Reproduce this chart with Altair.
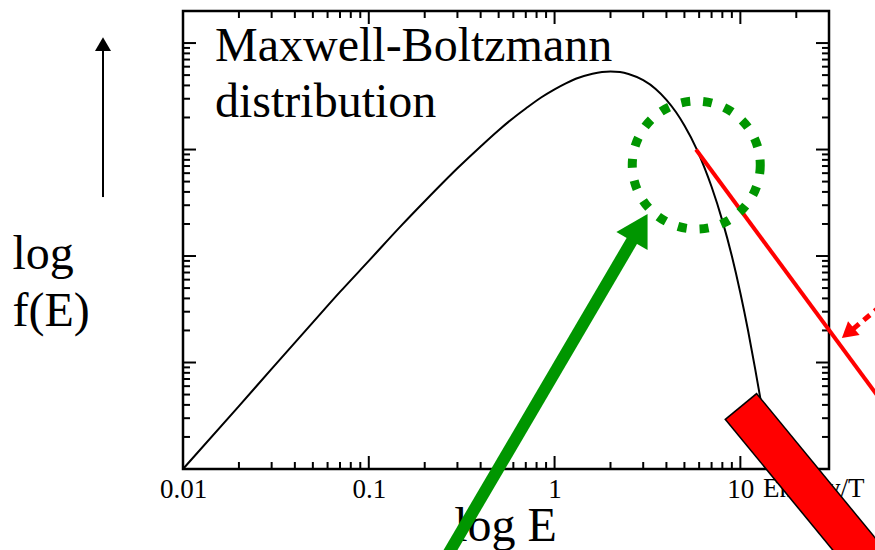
import altair as alt
import pandas as pd

# ---- Maxwell-Boltzmann curve ----
energy = [0.01, 0.02, 0.03, 0.05, 0.07, 0.1, 0.15, 0.2, 0.3, 0.4, 0.5, 0.6, 0.7,
          0.85, 1.0, 1.15, 1.3, 1.6, 1.8, 2.0, 2.25, 2.5, 3.0, 3.5, 4.0, 4.5, 5.0,
          5.8, 6.4, 7.0, 8.0, 9.0, 10.0, 11.0, 12.0, 12.9]
f_of_e = [1.0e-4, 3.9e-4, 8.7e-4, 2.38e-3, 4.6e-3, 9.0e-3, 1.94e-2, 3.27e-2, 6.67e-2,
          0.107, 0.152, 0.198, 0.243, 0.31, 0.368, 0.419, 0.462, 0.516, 0.535, 0.541,
          0.534, 0.513, 0.448, 0.371, 0.293, 0.225, 0.168, 0.102, 0.068, 0.0447,
          0.0215, 0.010, 4.5e-3, 2.0e-3, 8.8e-4, 4.3e-4]

# ---- tick values ----
x_labels = [0.01, 0.1, 1, 10]
x_major = [0.01, 0.1, 1, 10]
x_minor = [0.02, 0.03, 0.04, 0.05, 0.06, 0.07, 0.08, 0.09,
           0.2, 0.3, 0.4, 0.5, 0.6, 0.7, 0.8, 0.9,
           2, 3, 4, 5, 6, 7, 8, 9, 20]
y_major = [1e-4, 1e-3, 1e-2, 1e-1, 1]
y_minor = [2e-4, 3e-4, 4e-4, 5e-4, 6e-4, 7e-4, 8e-4, 9e-4,
           2e-3, 3e-3, 4e-3, 5e-3, 6e-3, 7e-3, 8e-3, 9e-3,
           2e-2, 3e-2, 4e-2, 5e-2, 6e-2, 7e-2, 8e-2, 9e-2,
           0.2, 0.3, 0.4, 0.5, 0.6, 0.7, 0.8, 0.9]

# ---- annotation geometry in data units (E, f) ----
red_line_e = [5.77, 76.9]
red_line_f = [0.1, 2.18e-4]
red_dash_e = [40.4, 76.9]
red_dash_f = [2.06e-3, 5.28e-3]
red_head_e = [37.9]
red_head_f = [1.89e-3]
circle_e = [5.79]
circle_f = [0.0715]
green_shaft_e = [0.2135, 2.642]
green_shaft_f = [8.14e-6, 0.01444]
green_head_e = [2.874]
green_head_f = [0.01852]
bar_border_e = [10.01, 72.55]
bar_border_f = [3.92e-4, 5.85e-6]
bar_fill_e = [10.14, 72.55]
bar_fill_f = [3.82e-4, 5.85e-6]
up_shaft_e = [3.71e-3, 3.71e-3]
up_shaft_f = [0.0358, 0.859]
up_head_e = [3.71e-3]
up_head_f = [0.9786]

W, H = 646, 458
SERIF = "Liberation Serif"
GREEN = "#009600"

xscale = alt.Scale(type="log", domain=[0.01, 30], nice=False)
yscale = alt.Scale(type="log", domain=[1e-4, 2], nice=False)

xaxis = alt.Axis(
    values=x_labels, format="~g", title="log E", ticks=False, domain=False,
    grid=False, labelFont=SERIF, labelFontSize=27, labelColor="black",
    labelPadding=28, labelBaseline="alphabetic", labelFlush=False,
    labelOverlap=False, titleFont=SERIF, titleFontSize=48,
    titleFontWeight="normal", titleColor="black", titleX=322, titleY=71,
    titleBaseline="alphabetic", titleAlign="center")
yaxis = alt.Axis(
    title=["log", "f(E)"], labels=False, ticks=False, domain=False,
    grid=False, titleAngle=0, titleX=-171, titleY=257, titleAlign="left",
    titleBaseline="alphabetic", titleFont=SERIF, titleFontSize=48,
    titleFontWeight="normal", titleColor="black", titleLineHeight=57)


def df(e, f):
    return pd.DataFrame({"E": e, "f": f})


def X():
    return alt.X("E:Q", scale=xscale, axis=xaxis)


def Y():
    return alt.Y("f:Q", scale=yscale, axis=yaxis)


curve = alt.Chart(df(energy, f_of_e)).mark_line(
    color="black", strokeWidth=2, interpolate="monotone", clip=False
).encode(x=X(), y=Y())


def xticks(vals, length, top):
    y0 = 0 if top else H
    y1 = length if top else H - length
    return alt.Chart(pd.DataFrame({"E": vals})).mark_rule(
        color="black", strokeWidth=2, clip=False
    ).encode(x=X(), y=alt.value(y0), y2=alt.value(y1))


def yticks(vals, length, right):
    x0 = W if right else 0
    x1 = W - length if right else length
    return alt.Chart(pd.DataFrame({"f": vals})).mark_rule(
        color="black", strokeWidth=2, clip=False
    ).encode(y=Y(), x=alt.value(x0), x2=alt.value(x1))


tick_layers = [
    xticks(x_major, 13, False), xticks(x_minor, 7, False),
    xticks(x_major, 13, True), xticks(x_minor, 7, True),
    yticks(y_major, 13, False), yticks(y_minor, 7, False),
    yticks(y_major, 13, True), yticks(y_minor, 7, True),
]


def text(s, x, y, size):
    return alt.Chart(pd.DataFrame({"t": [s]})).mark_text(
        font=SERIF, fontSize=size, color="black", align="left",
        baseline="alphabetic", clip=False
    ).encode(text="t:N", x=alt.value(x), y=alt.value(y))


texts = [
    text("Maxwell-Boltzmann", 32, 50, 48),
    text("distribution", 32, 106, 48),
    text("Energy/T", 580, 486, 27),
]


def line(e, f, color, width, dash=None):
    kw = dict(color=color, strokeWidth=width, clip=False, strokeCap="butt")
    if dash:
        kw["strokeDash"] = dash
    return alt.Chart(df(e, f)).mark_line(**kw).encode(x=X(), y=Y())


def head(e, f, color, size, angle):
    return alt.Chart(df(e, f)).mark_point(
        shape="triangle-up", filled=True, fill=color, strokeWidth=0,
        size=size, angle=angle, opacity=1, clip=False
    ).encode(x=X(), y=Y())


red_line = line(red_line_e, red_line_f, "red", 4)
red_dash = line(red_dash_e, red_dash_f, "red", 5, [8, 6])
red_head = head(red_head_e, red_head_f, "red", 324, 230)

circle = alt.Chart(df(circle_e, circle_f)).mark_point(
    shape="circle", filled=False, stroke=GREEN, strokeWidth=9,
    strokeDash=[9, 13], size=16384, opacity=1, clip=False
).encode(x=X(), y=Y())

green_shaft = line(green_shaft_e, green_shaft_f, GREEN, 12)
green_head = head(green_head_e, green_head_f, GREEN, 1296, 30)

bar_border = line(bar_border_e, bar_border_f, "black", 42)
bar_fill = line(bar_fill_e, bar_fill_f, "red", 39)

up_shaft = line(up_shaft_e, up_shaft_f, "black", 2)
up_head = head(up_head_e, up_head_f, "black", 256, 0)

chart = alt.layer(
    curve, *tick_layers, *texts, red_line, red_dash, red_head, circle,
    green_shaft, green_head, bar_border, bar_fill, up_shaft, up_head
).properties(
    width=W, height=H,
    autosize=alt.AutoSizeParams(type="none"),
    padding={"left": 183, "top": 11, "right": 46, "bottom": 81},
    background="white",
).configure_view(stroke="black", strokeWidth=2.5)

chart.save("out.html", embed_options={"renderer": "svg", "actions": False})
